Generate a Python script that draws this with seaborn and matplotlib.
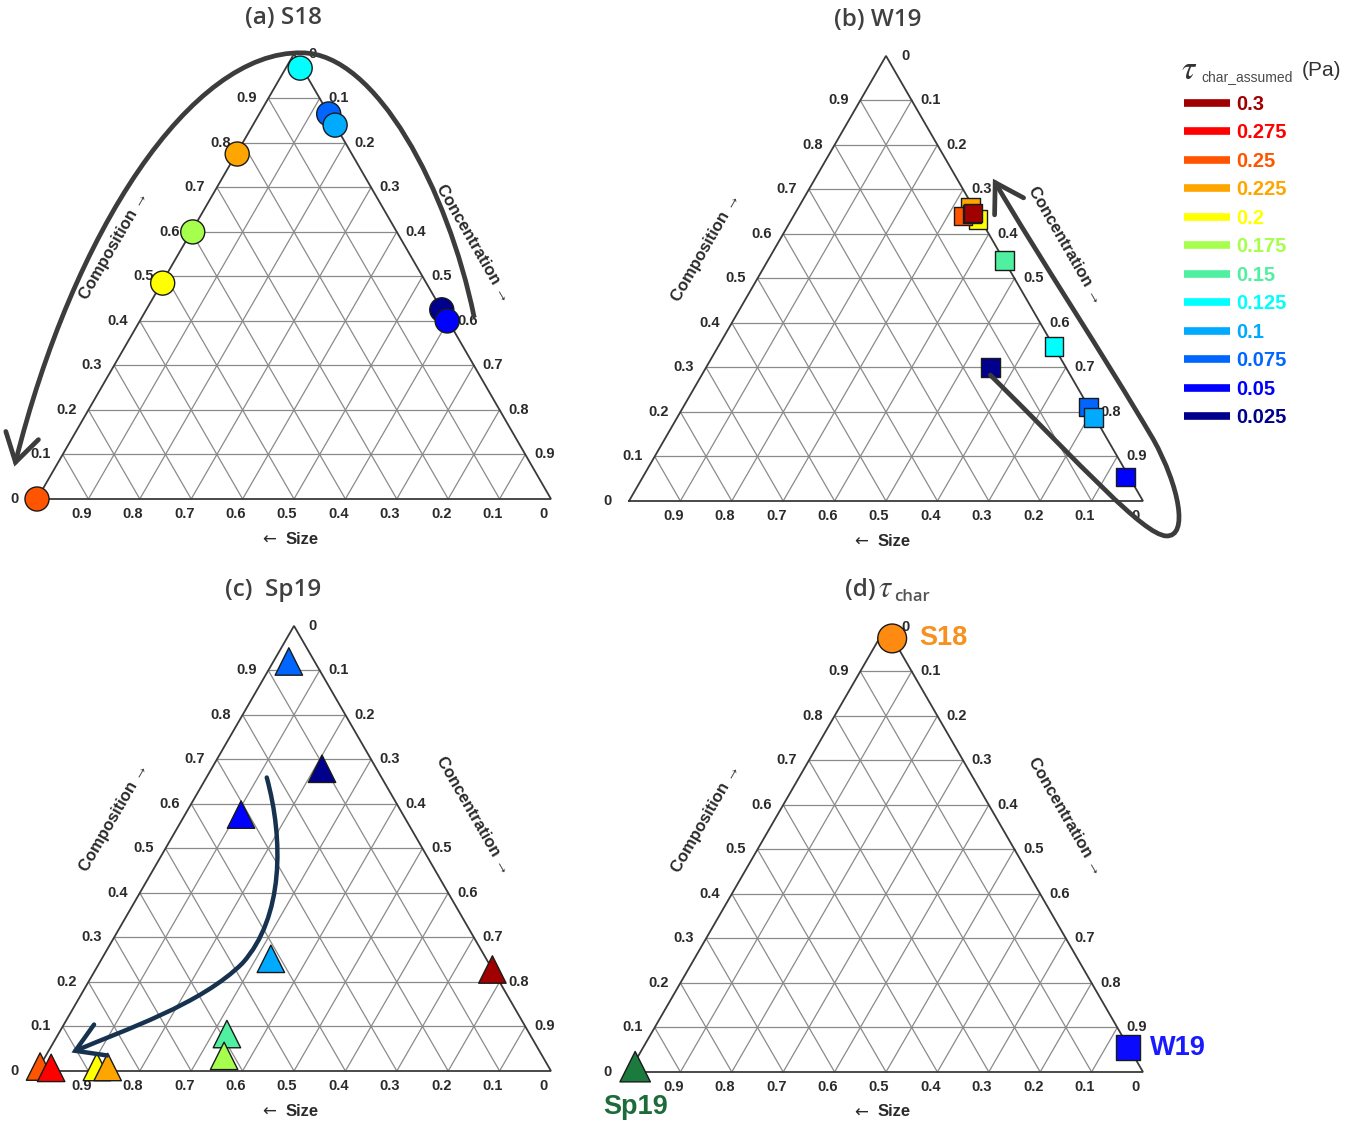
import numpy as np
import pandas as pd
import matplotlib
matplotlib.use("Agg")
import matplotlib.pyplot as plt
import seaborn as sns
from matplotlib.path import Path
from matplotlib.patches import FancyArrowPatch
from matplotlib.lines import Line2D

# Tau levels (Pa) and their colours (legend order)
tau_labels = ["0.3", "0.275", "0.25", "0.225", "0.2", "0.175",
              "0.15", "0.125", "0.1", "0.075", "0.05", "0.025"]
tau_colors = ["#a00000", "#ff0000", "#ff5500", "#ffa500", "#ffff00", "#a6ff4d",
              "#4ff0a0", "#00ffff", "#00aaff", "#0066ff", "#0000ff", "#00008c"]

# (a) S18 - composition / concentration fractions (size = 1 - comp - conc)
a_tau = ["0.25", "0.225", "0.175", "0.2", "0.125", "0.075", "0.1", "0.025", "0.05"]
a_comp = [0.0, 0.775, 0.60, 0.485, 0.968, 0.865, 0.84, 0.425, 0.40]
a_conc = [0.0, 0.002, 0.003, 0.002, 0.028, 0.135, 0.16, 0.575, 0.598]

# (b) W19
b_tau = ["0.2", "0.225", "0.25", "0.275", "0.3", "0.15", "0.125", "0.025", "0.075", "0.1", "0.05"]
b_comp = [0.632, 0.66, 0.64, 0.645, 0.647, 0.54, 0.347, 0.30, 0.211, 0.187, 0.054]
b_conc = [0.363, 0.334, 0.33, 0.345, 0.346, 0.46, 0.653, 0.553, 0.788, 0.81, 0.939]

# (c) Sp19
c_tau = ["0.075", "0.025", "0.05", "0.1", "0.3", "0.15", "0.175", "0.25", "0.275", "0.2", "0.225"]
c_comp = [0.92, 0.679, 0.576, 0.252, 0.228, 0.083, 0.034, 0.01, 0.007, 0.009, 0.009]
c_conc = [0.03, 0.215, 0.109, 0.329, 0.772, 0.328, 0.347, 0.001, 0.024, 0.112, 0.133]

# (d) characteristic tau for each campaign
d_site = ["S18", "W19", "Sp19"]
d_comp = [0.974, 0.055, 0.012]
d_conc = [0.025, 0.943, 0.006]
d_colors = ["#ff8a12", "#0a0aff", "#1b7a3d"]
d_text_colors = ["#f7901e", "#1a1aff", "#1d6b3a"]

sns.set_style("white")
plt.rcParams["font.family"] = ["Liberation Sans", "DejaVu Sans"]

W, H = 1360, 1122
SQ3 = np.sqrt(3) / 2
GRID = "#8a8a8a"
EDGE = "#3a3a3a"
TICK = "#2a2a2a"
TITLE = "#404040"
palette = dict(zip(tau_labels, tau_colors))


def tern(comp, conc):
    comp = np.asarray(comp, dtype=float)
    conc = np.asarray(conc, dtype=float)
    return conc + 0.5 * comp, comp * SQ3


def panel_axes(fig, lx, ly, s):
    x0, x1, y0, y1 = -0.12, 1.15, -0.14, 0.98
    rect = [(lx + x0 * s) / W, (H - (ly - y0 * s)) / H, (x1 - x0) * s / W, (y1 - y0) * s / H]
    ax = fig.add_axes(rect)
    ax.axis("off")
    return ax


def finish(ax):
    ax.set_xlim(-0.12, 1.15)
    ax.set_ylim(-0.14, 0.98)


def draw_frame(ax):
    for v in np.arange(1, 10) / 10:
        for comp, conc in (([v, v], [0, 1 - v]), ([0, 1 - v], [v, v]), ([0, 1 - v], [1 - v, 0])):
            x, y = tern(comp, conc)
            ax.plot(x, y, color=GRID, lw=0.9, zorder=1)
    x, y = tern([0, 0, 1, 0], [0, 1, 0, 0])
    ax.plot(x, y, color=EDGE, lw=1.3, zorder=2, solid_joinstyle="miter")

    tk = dict(textcoords="offset pixels", ha="center", va="center",
              fontsize=10.5, fontweight="bold", color=TICK)
    for v in np.arange(0, 10) / 10:
        lab = f"{v:g}"
        ax.annotate(lab, xy=tern(v, 0), xytext=(-22, 0), **tk)
        ax.annotate(lab, xy=tern(1 - v, v), xytext=(19, 0), **tk)
        ax.annotate(lab, xy=tern(0, 1 - v), xytext=(-7, -15), **tk)

    at = dict(textcoords="offset pixels", ha="center", va="center",
              fontsize=12, fontweight="bold", color=TICK, rotation_mode="anchor")
    arr = dict(family=["DejaVu Sans"], fontweight="normal")
    ax.annotate("Size", xy=(0.5, 0), xytext=(8, -40), **at)
    ax.annotate("←", xy=(0.5, 0), xytext=(-25, -41), textcoords="offset pixels",
                ha="center", va="center", fontsize=12, color=TICK, **arr)
    ax.annotate("Composition →", xy=(0.25, SQ3 / 2), xytext=(-51, 31), rotation=60, **at)
    ax.annotate("Concentration →", xy=(0.75, SQ3 / 2), xytext=(51, 33), rotation=-60, **at)


def scatter_panel(ax, tau, comp, conc, marker, size):
    x, y = tern(comp, conc)
    df = pd.DataFrame({"x": x, "y": y, "tau": tau})
    sns.scatterplot(data=df, x="x", y="y", hue="tau", palette=palette, marker=marker,
                    s=size, edgecolor="#1a1a1a", linewidth=1.0, legend=False,
                    ax=ax, zorder=3, clip_on=False)


def curved_arrow(ax, verts, color, lw):
    codes = [Path.MOVETO] + [Path.CURVE4] * (len(verts) - 1)
    arr = FancyArrowPatch(path=Path(verts, codes), transform=ax.transData,
                          arrowstyle="->,head_length=0.9,head_width=0.55",
                          mutation_scale=22, lw=lw, color=color, zorder=4,
                          clip_on=False, joinstyle="miter", capstyle="round")
    ax.add_patch(arr)


def title(ax, text, dx):
    ax.text(0.5 + dx / 514, 0.936, text, ha="center", va="center", fontsize=17.5,
            fontweight="semibold", color=TITLE, family=["Open Sans", "DejaVu Sans"])


def px_text(x, y, s, **kw):
    fig.text(x / W, 1 - y / H, s, **kw)


fig = plt.figure(figsize=(W / 100, H / 100), dpi=100)

# (a)
ax = panel_axes(fig, 37, 499, 514)
draw_frame(ax)
scatter_panel(ax, a_tau, a_comp, a_conc, "o", 300)
curved_arrow(ax, [(0.850, 0.356), (0.80, 0.60), (0.66, 0.868), (0.515, 0.868),
                  (0.30, 0.872), (0.07, 0.52), (-0.044, 0.063)], "#3c3c3c", 3.4)
title(ax, "(a) S18", -11)
finish(ax)

# (b)
ax = panel_axes(fig, 629, 501, 514)
draw_frame(ax)
scatter_panel(ax, b_tau, b_comp, b_conc, "s", 180)
curved_arrow(ax, [(0.703, 0.245), (0.88, 0.07), (1.00, -0.065), (1.045, -0.068),
                  (1.09, -0.07), (1.07, 0.03), (1.02, 0.12),
                  (0.92, 0.29), (0.80, 0.47), (0.708, 0.627)], "#3c3c3c", 3.4)
title(ax, "(b) W19", -8)
finish(ax)

# (c)
ax = panel_axes(fig, 37, 1071, 514)
draw_frame(ax)
scatter_panel(ax, c_tau, c_comp, c_conc, "^", 390)
curved_arrow(ax, [(0.447, 0.571), (0.48, 0.45), (0.48, 0.30), (0.40, 0.21),
                  (0.32, 0.13), (0.17, 0.08), (0.067, 0.036)], "#17324f", 3.2)
title(ax, "(c)  Sp19", -21)
finish(ax)

# (d)
ax = panel_axes(fig, 629, 1072, 514)
draw_frame(ax)
x, y = tern(d_comp, d_conc)
df_d = pd.DataFrame({"x": x, "y": y, "site": d_site})
sns.scatterplot(data=df_d, x="x", y="y", hue="site", style="site", size="site",
                palette=dict(zip(d_site, d_colors)),
                markers={"S18": "o", "W19": "s", "Sp19": "^"},
                sizes={"S18": 430, "W19": 300, "Sp19": 480},
                edgecolor="#1a1a1a", linewidth=1.0, legend=False, ax=ax,
                zorder=3, clip_on=False)
offsets = {"S18": (27, 0, "left"), "W19": (22, 0, "left"), "Sp19": (0, -40, "center")}
for site, xi, yi, tc in zip(d_site, x, y, d_text_colors):
    dx, dy, ha = offsets[site]
    ax.annotate(site, xy=(xi, yi), xytext=(dx, dy), textcoords="offset pixels",
                ha=ha, va="center", fontsize=19.5, fontweight="bold", color=tc)
finish(ax)

# (d) title: "(d) tau_char"
px_text(860, 590, "(d)", fontsize=17.5, fontweight="semibold", color=TITLE,
        ha="center", va="center", family=["Open Sans", "DejaVu Sans"])
px_text(879, 589, "τ", fontsize=22, style="italic", color=TITLE, ha="left",
        va="center", family=["STIXGeneral", "DejaVu Serif"])
px_text(894, 597, "char", fontsize=12, fontweight="semibold", color="#555555",
        ha="left", va="center", family=["Open Sans", "DejaVu Sans"])

# colour legend for tau_char_assumed
px_text(1182, 71, "τ", fontsize=24, style="italic", color="#333333", ha="left",
        va="center", family=["STIXGeneral", "DejaVu Serif"])
px_text(1201, 77, "char_assumed", fontsize=10, ha="left", va="center", color="#4a4a4a")
px_text(1302, 71, "(Pa)", fontsize=15, ha="left", va="center", color="#333333")
handles = [Line2D([0], [0], color=c, lw=5.5, solid_capstyle="butt") for c in tau_colors]
fig.legend(handles, tau_labels, loc="upper left", bbox_to_anchor=(1184 / W, 1 - 95 / H),
           frameon=False, handlelength=2.3, handletextpad=0.3, labelspacing=0.47,
           borderpad=0, borderaxespad=0, labelcolor="linecolor",
           prop={"weight": "bold", "size": 14.5})

fig.savefig("out.png", dpi=100)
